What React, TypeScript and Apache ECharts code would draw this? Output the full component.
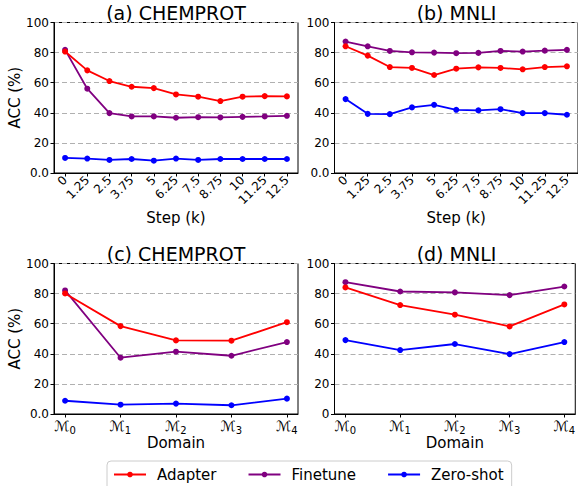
import React, { useEffect, useRef } from "react";
import * as echarts from "echarts";

const steps = [0, 1.25, 2.5, 3.75, 5, 6.25, 7.5, 8.75, 10, 11.25, 12.5];
const domains = [0, 1, 2, 3, 4];

const chemStepAdapter = [80.7, 68.2, 61.1, 57.3, 56.4, 52.2, 50.7, 47.8, 50.7, 51.1, 50.9];
const chemStepFinetune = [81.8, 56.0, 39.8, 37.6, 37.6, 36.7, 37.1, 36.9, 37.3, 37.6, 38.0];
const chemStepZero = [10.0, 9.6, 8.7, 9.3, 8.2, 9.6, 8.7, 9.3, 9.3, 9.3, 9.3];

const mnliStepAdapter = [84.2, 78.0, 70.4, 69.8, 65.1, 69.3, 70.2, 69.8, 68.9, 70.4, 70.9];
const mnliStepFinetune = [87.3, 84.2, 81.1, 80.2, 80.0, 79.6, 79.8, 81.1, 80.7, 81.3, 81.8];
const mnliStepZero = [49.1, 39.3, 39.1, 43.6, 45.3, 42.0, 41.6, 42.4, 39.8, 39.8, 38.7];

const chemDomAdapter = [80.1, 58.4, 48.9, 48.7, 61.0];
const chemDomFinetune = [82.1, 37.4, 41.4, 38.7, 47.8];
const chemDomZero = [8.8, 6.2, 6.9, 5.8, 10.2];

const mnliDomAdapter = [84.1, 72.4, 66.0, 58.2, 72.8];
const mnliDomFinetune = [87.6, 81.4, 80.8, 79.0, 84.7];
const mnliDomZero = [49.1, 42.5, 46.5, 39.8, 47.8];

const yTicks = [0, 20, 40, 60, 80, 100];
const titles = ["(a) CHEMPROT", "(b) MNLI", "(c) CHEMPROT", "(d) MNLI"];
const seriesNames = ["Adapter", "Finetune", "Zero-shot"];
const colors = ["#ff0000", "#800080", "#0000ff"];

const FONT = "DejaVu Sans";

export default function App() {
  const ref = useRef<HTMLDivElement>(null);
  useEffect(() => {
    if (!ref.current) return;
    const chart = echarts.init(ref.current, null, { renderer: "svg" });

    const grids = [
      { left: 54, top: 22.5, width: 244, height: 150.5 },
      { left: 334.5, top: 22.5, width: 244, height: 150.5 },
      { left: 54, top: 263.5, width: 244, height: 150.5 },
      { left: 334.5, top: 263.5, width: 244, height: 150.5 },
    ];

    const stepPad = (steps[steps.length - 1] - steps[0]) * 0.05;
    const domPad = (domains[domains.length - 1] - domains[0]) * 0.05;

    const xAxes = grids.map((_, i) => {
      const isStep = i < 2;
      const vals = isStep ? steps : domains;
      const pad = isStep ? stepPad : domPad;
      return {
        type: "value",
        gridIndex: i,
        min: vals[0] - pad,
        max: vals[vals.length - 1] + pad,
        name: isStep ? "Step (k)" : "Domain",
        nameLocation: "middle",
        nameGap: isStep ? 37 : 14,
        nameTextStyle: { fontFamily: FONT, fontSize: 15, color: "#000" },
        axisLine: { show: true, onZero: false, lineStyle: { color: "#000", width: 1 } },
        axisTick: { show: true, customValues: vals, length: 3.5, lineStyle: { color: "#000" } },
        splitLine: { show: false },
        axisLabel: {
          customValues: vals,
          rotate: isStep ? 45 : 0,
          margin: 5,
          fontFamily: FONT,
          fontSize: 12,
          color: "#000",
          formatter: isStep
            ? (v: number) => String(v)
            : (v: number) => "{m|ℳ}{s|" + Math.round(v) + "}",
          rich: {
            m: { fontFamily: FONT, fontSize: 14, color: "#000", verticalAlign: "top", lineHeight: 15 },
            s: { fontFamily: FONT, fontSize: 10, color: "#000", verticalAlign: "bottom", lineHeight: 16 },
          },
        },
      };
    });

    const yAxes = grids.map((_, i) => ({
      type: "value",
      gridIndex: i,
      min: yTicks[0],
      max: yTicks[yTicks.length - 1],
      interval: 20,
      name: i % 2 === 0 ? "ACC (%)" : "",
      nameLocation: "middle",
      nameGap: 28,
      nameTextStyle: { fontFamily: FONT, fontSize: 15, color: "#000" },
      axisLine: { show: true, onZero: false, lineStyle: { color: "#000", width: 1 } },
      axisTick: { show: true, length: 3.5, lineStyle: { color: "#000" } },
      splitLine: { show: true, lineStyle: { color: "#b0b0b0", type: [5, 3], width: 1 } },
      axisLabel: {
        margin: 5,
        fontFamily: FONT,
        fontSize: 12,
        color: "#000",
        formatter: (v: number) => (v === 0 && i !== 3 ? "0.0" : String(v)),
      },
    }));

    const dataSets = [
      [chemStepAdapter, chemStepFinetune, chemStepZero],
      [mnliStepAdapter, mnliStepFinetune, mnliStepZero],
      [chemDomAdapter, chemDomFinetune, chemDomZero],
      [mnliDomAdapter, mnliDomFinetune, mnliDomZero],
    ];

    const series: any[] = [];
    dataSets.forEach((sets, gi) => {
      const xs = gi < 2 ? steps : domains;
      sets.forEach((vals, si) => {
        series.push({
          type: "line",
          name: seriesNames[si],
          xAxisIndex: gi,
          yAxisIndex: gi,
          data: vals.map((v, k) => [xs[k], v]),
          symbol: "circle",
          symbolSize: 6,
          showSymbol: true,
          lineStyle: { color: colors[si], width: 1.8 },
          itemStyle: { color: colors[si] },
          z: 5 - si,
        });
      });
    });

    const graphic = grids.map((g, i) => ({
      type: "text",
      x: g.left + g.width / 2,
      y: g.top - 9.5,
      style: {
        text: titles[i],
        fontFamily: FONT,
        fontSize: 19,
        fill: "#000",
        textAlign: "center",
        textVerticalAlign: "middle",
      },
    }));

    chart.setOption({
      animation: false,
      backgroundColor: "#fff",
      grid: grids.map((g) => ({ ...g, show: true, borderColor: "#000", borderWidth: 1, backgroundColor: "transparent" })),
      xAxis: xAxes,
      yAxis: yAxes,
      series,
      graphic,
      legend: {
        data: seriesNames,
        left: 107,
        top: 461,
        orient: "horizontal",
        itemWidth: 32,
        itemHeight: 7,
        itemGap: 31,
        padding: [6, 8, 8, 6],
        backgroundColor: "#fff",
        borderColor: "#cccccc",
        borderWidth: 1,
        borderRadius: 4,
        textStyle: { fontFamily: FONT, fontSize: 15, color: "#000", padding: [0, 0, 0, 6] },
      },
    });
    return () => chart.dispose();
  }, []);
  return <div ref={ref} style={{ position: "fixed", left: 0, top: 0, width: 578, height: 486 }} />;
}
